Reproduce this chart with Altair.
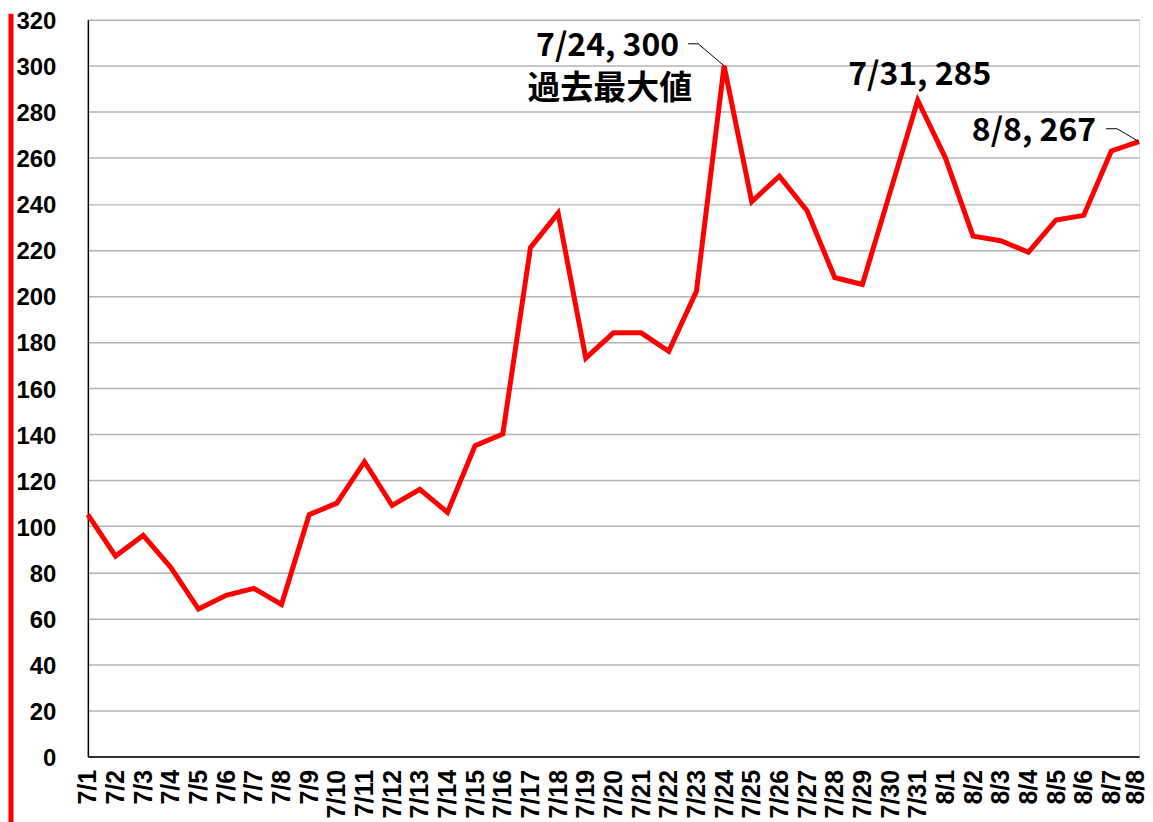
import altair as alt
import pandas as pd

dates = ["7/1","7/2","7/3","7/4","7/5","7/6","7/7","7/8","7/9","7/10",
         "7/11","7/12","7/13","7/14","7/15","7/16","7/17","7/18","7/19","7/20",
         "7/21","7/22","7/23","7/24","7/25","7/26","7/27","7/28","7/29","7/30",
         "7/31","8/1","8/2","8/3","8/4","8/5","8/6","8/7","8/8"]
values = [105, 87, 96, 82, 64, 70, 73, 66, 105, 110,
          128, 109, 116, 106, 135, 140, 221, 236, 173, 184,
          184, 176, 202, 300, 241, 252, 237, 208, 205, 245,
          285, 260, 226, 224, 219, 233, 235, 263, 267]
y_ticks = list(range(0, 321, 20))

df = pd.DataFrame({"idx": list(range(len(dates))), "date": dates, "value": values})

label_expr = "[" + ",".join("'%s'" % d for d in dates) + "][datum.value]"
last = len(dates) - 1

x_axis = alt.Axis(values=list(range(len(dates))), labelExpr=label_expr,
                  labelAngle=-90, labelAlign="right", labelBaseline="middle",
                  labelFont="Liberation Sans", labelFontSize=25,
                  labelFontWeight="bold", labelColor="black",
                  labelOffset={"condition": {"test": "datum.value == %d" % last, "value": -4},
                               "value": 0},
                  labelPadding=13, ticks=False, grid=False,
                  domainColor="black", domainWidth=1.5, title=None,
                  labelOverlap=False, labelFlush=False, labelBound=False)
y_axis = alt.Axis(values=y_ticks, labelFont="Liberation Sans",
                  labelFontSize=24, labelFontWeight="bold",
                  labelColor="black", labelPadding=32, ticks=False,
                  labelOffset=2,
                  gridColor="#b4b4b4", gridWidth=1.5, labelOverlap=False,
                  domainColor="black", domainWidth=1.5, title=None)
x_scale = alt.Scale(domain=[0, last], nice=False, zero=False)
y_scale = alt.Scale(domain=[0, 320], nice=False)

def X():
    return alt.X("idx:Q", scale=x_scale, axis=x_axis)

def Y():
    return alt.Y("value:Q", scale=y_scale, axis=y_axis)

line = alt.Chart(df).mark_line(color="#ff0000", strokeWidth=5, strokeJoin="miter").encode(
    x=X(), y=Y())

def pick(d):
    return df[df["date"] == d]

ann_font = "Noto Sans CJK JP"

def label(d, text, **kw):
    return alt.Chart(pick(d).assign(label=text)).mark_text(
        baseline="middle", font=ann_font, fontWeight="bold", color="black", **kw).encode(
        x=X(), y=Y(), text="label:N")

t1 = label("7/24", "7/24, 300", align="right", dx=-45, dy=-20, fontSize=32)
t1b = label("7/24", "過去最大値", align="right", dx=-32, dy=23, fontSize=33)
t2 = label("7/31", "7/31, 285", align="center", dx=2, dy=-25, fontSize=32)
t3 = label("8/8", "8/8, 267", align="right", dx=-43, dy=-11, fontSize=32)

def leader(d, ddx, ddy, hlen):
    base = alt.Chart(pick(d))
    diag = base.mark_rule(color="black", strokeWidth=1, x2Offset=ddx, y2Offset=ddy).encode(
        x=X(), y=Y(), x2="idx:Q", y2="value:Q")
    horiz = base.mark_rule(color="black", strokeWidth=1, xOffset=ddx, yOffset=ddy,
                           x2Offset=ddx - hlen, y2Offset=ddy).encode(
        x=X(), y=Y(), x2="idx:Q", y2="value:Q")
    return diag + horiz

l1 = leader("7/24", -26, -22, 10)
l3 = leader("8/8", -22, -13, 11)

side = alt.Chart(df.head(1)).mark_rule(color="#ff0000", strokeWidth=5).encode(
    x=alt.value(-77), y=alt.value(-6), y2=alt.value(820))

chart = alt.layer(line, side, l1, l3, t1, t1b, t2, t3).properties(
    width=1053, height=738,
    autosize=alt.AutoSizeParams(type="none"),
    padding={"left": 80, "top": 11, "right": 6, "bottom": 70},
).configure_view(stroke="black", strokeWidth=1.5).configure(background="white")

chart.save("out.html", embed_options={"renderer": "svg", "actions": False})
